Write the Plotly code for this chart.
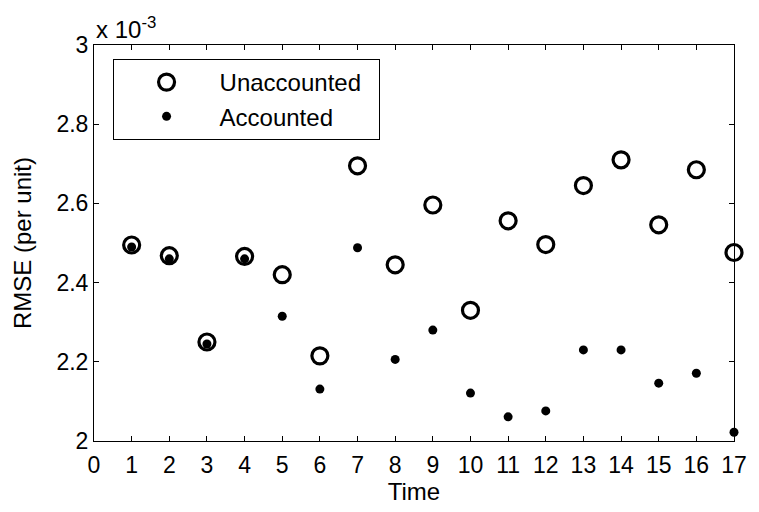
import plotly.graph_objects as go

time = list(range(1, 18))
unaccounted = [2.495, 2.468, 2.250, 2.466, 2.420, 2.215, 2.695, 2.445, 2.596,
               2.330, 2.556, 2.496, 2.645, 2.710, 2.546, 2.685, 2.476]
accounted = [2.490, 2.460, 2.245, 2.460, 2.315, 2.131, 2.488, 2.206, 2.280,
             2.121, 2.061, 2.076, 2.230, 2.230, 2.146, 2.171, 2.022]
x_ticks = list(range(0, 18))
y_ticks = [2.0, 2.2, 2.4, 2.6, 2.8, 3.0]
y_tick_labels = ["2", "2.2", "2.4", "2.6", "2.8", "3"]

font = "Liberation Sans, Arial, Helvetica, sans-serif"
FS = 24

fig = go.Figure()
fig.add_trace(go.Scatter(
    x=time, y=unaccounted, mode="markers", name="Unaccounted\u2002",
    marker=dict(symbol="circle-open", size=16, color="black",
                line=dict(width=3.2, color="black")),
    cliponaxis=False,
))
fig.add_trace(go.Scatter(
    x=time, y=accounted, mode="markers", name="Accounted",
    marker=dict(symbol="circle", size=9, color="black"),
    cliponaxis=False,
))

axis_common = dict(
    showgrid=False, zeroline=False, showline=True, linecolor="black",
    linewidth=1, mirror="ticks", ticks="inside", ticklen=5,
    tickcolor="black", tickwidth=1,
    tickfont=dict(family=font, size=FS - 1, color="black"),
)

fig.update_layout(
    width=759, height=512,
    margin=dict(l=94, r=15, t=45, b=71),
    paper_bgcolor="white", plot_bgcolor="white",
    font=dict(family=font, color="black"),
    xaxis=dict(range=[0, 17], tickvals=x_ticks, ticklabelstandoff=3,
               title=dict(text="Time", font=dict(family=font, size=FS), standoff=6),
               **axis_common),
    yaxis=dict(range=[2.0, 3.0], tickvals=y_ticks, ticktext=y_tick_labels,
               title=dict(text="RMSE (per unit)", font=dict(family=font, size=FS), standoff=18),
               **axis_common),
    legend=dict(x=0.029, y=0.9646, xanchor="left", yanchor="top",
                bordercolor="black", borderwidth=1, bgcolor="white",
                font=dict(family=font, size=FS, color="black"),
                itemwidth=96),
    showlegend=True,
)

fig.add_annotation(
    xref="paper", yref="paper", x=0.0, y=1.0, xanchor="left", yanchor="bottom",
    text="x 10<sup>-3</sup>", showarrow=False, yshift=0,
    font=dict(family=font, size=FS, color="black"),
)

fig.write_html("out.html")
